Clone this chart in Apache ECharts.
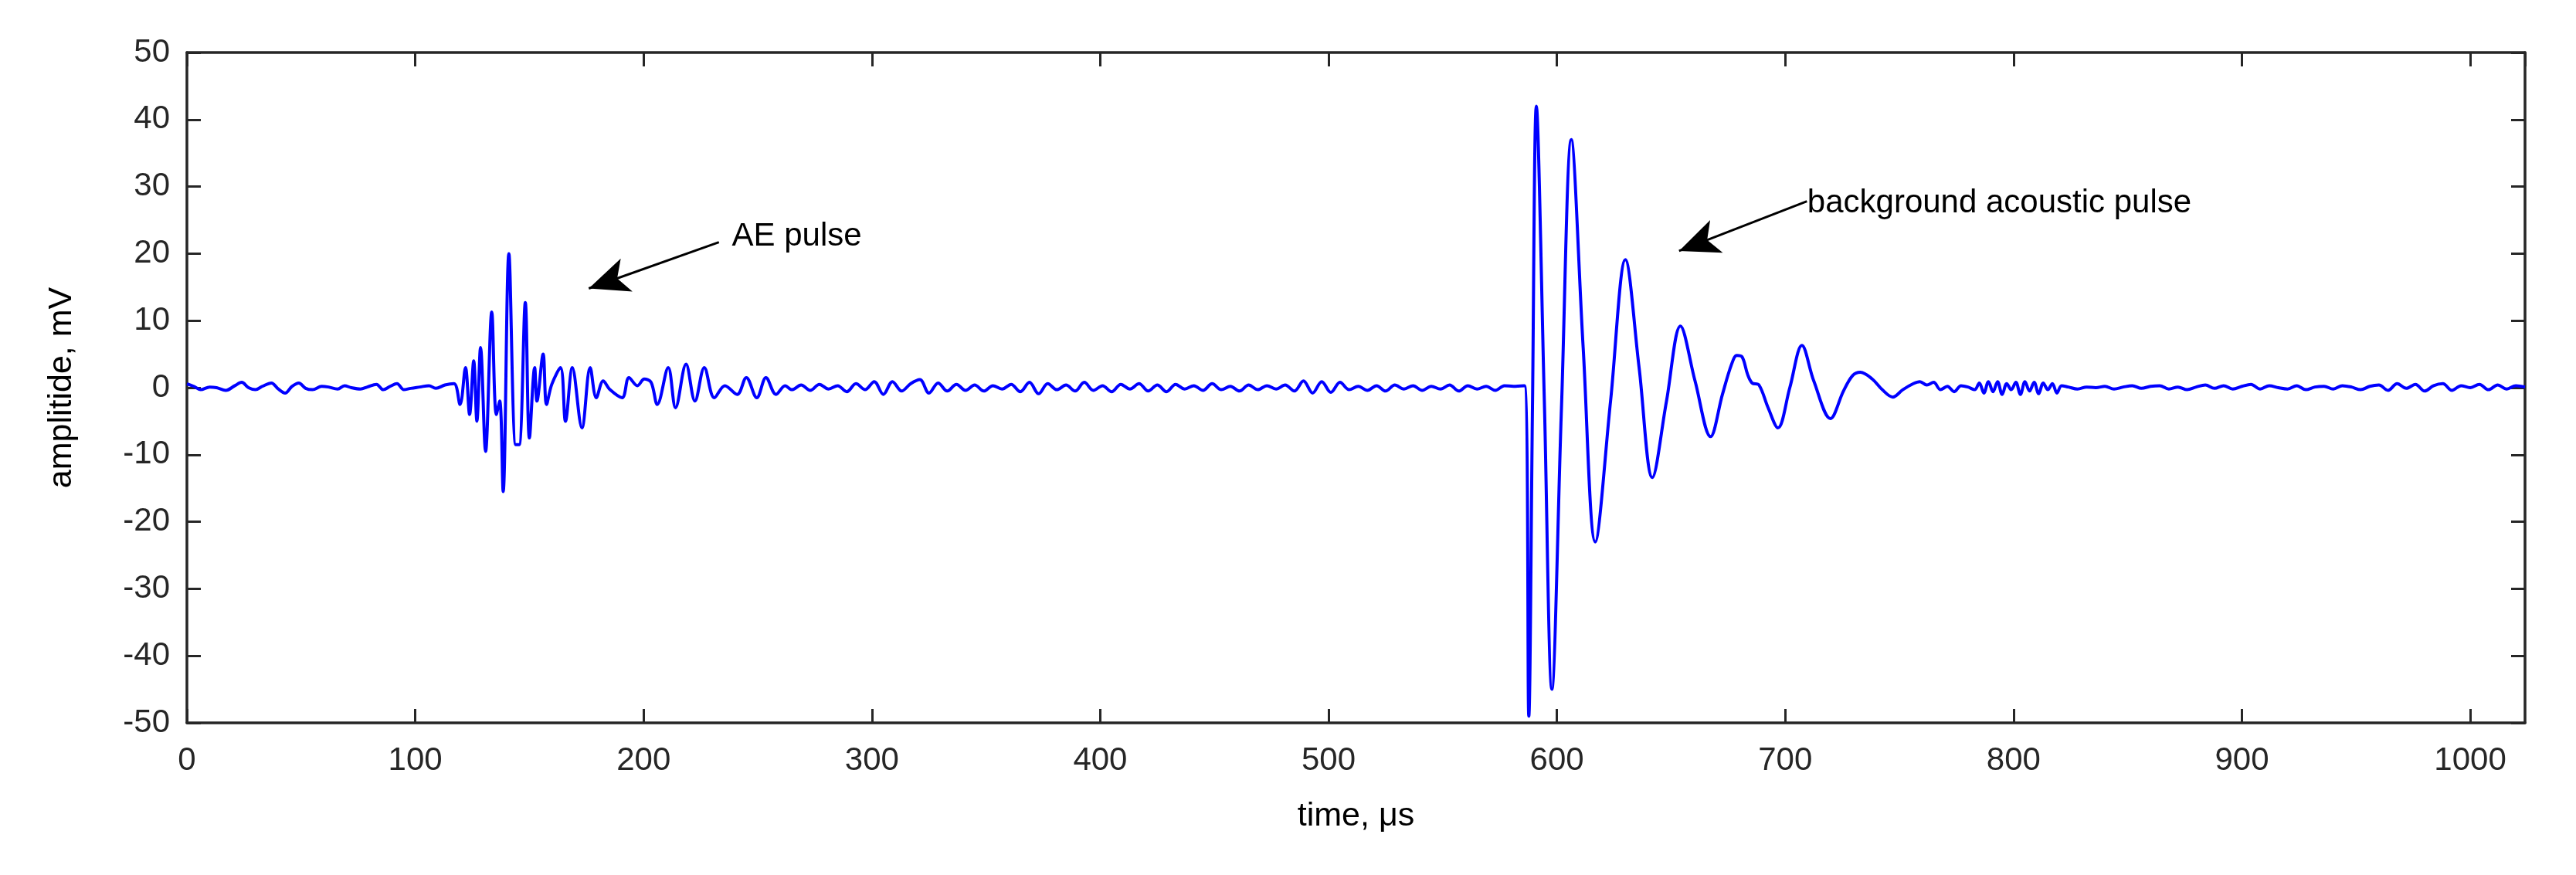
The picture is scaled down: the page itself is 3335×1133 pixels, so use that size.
<!DOCTYPE html>
<html>
<head>
<meta charset="utf-8">
<script src="https://cdn.jsdelivr.net/npm/echarts@6/dist/echarts.min.js"></script>
<style>html,body{margin:0;padding:0;background:#fff}#chart{width:3335px;height:1133px}</style>
</head>
<body>
<div id="chart"></div>
<script>
// time (us), amplitude (mV)
var noiseStart = [[0,0.6],[3,0.2],[6,-0.3],[10,0.1],[13,0],[17,-0.4],[21,0.3],[24,0.8],[27,0],[30,-0.3],[33,0.2],[37,0.7],[40,-0.2],[43,-0.8],[46,0.2],[49,0.7],[52,-0.1],[55,-0.3],[59,0.2],[62,0.1],[66,-0.2],[69,0.3],[72,0],[76,-0.2],[79,0.1],[83,0.5],[86,-0.3],[89,0.2],[92,0.6],[95,-0.3],[98,-0.1],[102,0.1],[106,0.3],[109,-0.1],[113,0.4],[117,0.6]];
var aePulse = [[119.6,-2.5],[122,3],[123.8,-4],[125.6,4],[127,-5],[128.6,6],[130.8,-9.5],[133.5,11.3],[135.5,-4],[137,-2],[138.5,-15.5],[141,20],[144,-8.5],[145.5,-8.5],[148.2,12.7],[150,-7.5],[152.3,3],[153.3,-2],[156,5],[157.5,-2.5],[159.8,0.5],[163.6,3],[165.8,-5],[168.8,3],[173,-6],[176.6,3],[179.3,-1.5],[182.3,1],[185.3,-0.3],[190.6,-1.5],[193.6,1.5],[197.3,0.3],[200.3,1.3],[203.3,0.8],[206,-2.5],[210.8,3],[214,-3],[218.6,3.5],[222.5,-2],[226.6,3],[231,-1.5],[235.6,0.3],[241,-1],[245,1.5],[249.6,-1.5],[253.6,1.5],[258,-1],[262,0.3]];
var noiseMid = [[265,-0.3],[269,0.4],[273,-0.4],[277,0.5],[281,-0.2],[285,0.3],[289,-0.6],[293,0.6],[297,-0.3],[301,0.9],[305,-1],[309,0.9],[313,-0.5],[317,0.6],[321,1.2],[325,-0.8],[329,0.7],[333,-0.5],[337,0.5],[341,-0.4],[345,0.4],[349,-0.5],[353,0.3],[357,-0.2],[361,0.5],[365,-0.6],[369,0.8],[373,-0.9],[377,0.6],[381,-0.3],[385,0.4],[389,-0.5],[393,0.8],[397,-0.4],[401,0.3],[405,-0.6],[409,0.5],[413,-0.2],[417,0.6],[421,-0.5],[425,0.4],[429,-0.6],[433,0.5],[437,-0.2],[441,0.3],[445,-0.4],[449,0.6],[453,-0.3],[457,0.2],[461,-0.5],[465,0.4],[469,-0.3],[473,0.3],[477,-0.2],[481,0.4],[485,-0.5],[489,1],[493,-0.8],[497,0.9],[501,-0.7],[505,0.8],[509,-0.3],[513,0.2],[517,-0.4],[521,0.3],[525,-0.5],[529,0.4],[533,-0.2],[537,0.3],[541,-0.4],[545,0.2],[549,-0.2],[553,0.4],[557,-0.5],[561,0.3],[565,-0.2],[569,0.2],[573,-0.4],[577,0.3],[581,0.2],[585.8,0.3]];
var bgPulse = [[587.7,-49],[589.3,-3],[591,42],[594.5,-2],[597.8,-45],[602,-3],[606.3,37],[611.5,6],[616.8,-23],[623.5,-2],[630,19.1],[636,3],[641.8,-13.4],[648,-2],[654.1,9.2],[660.5,1],[667.3,-7.3],[672.5,-1],[676.5,3.5],[678.8,4.8],[681.1,4.6],[683.5,2],[685.5,0.7],[688.5,0.4],[692.5,-3],[696.8,-6],[702,0],[707.3,6.3],[712.5,1],[719.8,-4.6],[725.5,-0.5],[729.5,1.8],[732.9,2.3],[738.1,1.3],[742.5,-0.3],[747.1,-1.4],[751.5,-0.3],[756.1,0.6]];
var noiseEnd = [[759,0.9],[762,0.4],[765,0.8],[768,-0.3],[771,0.2],[774,-0.6],[777,0.3],[780,0.1],[783,-0.3],[785,0.7],[787,-0.8],[789,0.9],[791,-0.6],[793,0.9],[795,-1],[797,0.6],[799,-0.3],[801,0.8],[803,-1],[805,0.9],[807,-0.5],[809,0.8],[811,-0.9],[813,0.7],[815,-0.3],[817,0.6],[819,-0.8],[821,0.3],[824,0.1],[828,-0.2],[832,0.1],[836,0],[840,0.2],[844,-0.2],[848,0.1],[852,0.3],[856,-0.1],[860,0.2],[864,0.3],[868,-0.2],[872,0.1],[876,-0.3],[880,0.1],[884,0.4],[888,-0.1],[892,0.3],[896,-0.2],[900,0.2],[904,0.5],[908,-0.2],[912,0.3],[916,0],[920,-0.2],[924,0.3],[928,-0.3],[932,0.1],[936,0.2],[940,-0.2],[944,0.3],[948,0.1],[952,-0.3],[956,0.2],[960,0.4],[964,-0.4],[968,0.6],[972,-0.1],[976,0.5],[980,-0.5],[984,0.3],[988,0.6],[992,-0.4],[996,0.3],[1000,0],[1004,0.5],[1008,-0.3],[1012,0.4],[1016,-0.2],[1020,0.3],[1024,0.1]];
var xTicks = [0, 1024, 100];
var yTicks = [-50, 50, 10];
var aeLabel = {text: 'AE pulse', at: [238, 22.5], from: [233, 21.7], tip: [176, 14.8]};
var bgLabel = {text: 'background acoustic pulse', at: [709, 27.5], from: [709.5, 27.8], tip: [653.5, 20.4]};

var wave = [].concat(noiseStart, aePulse, noiseMid, bgPulse, noiseEnd);

var FONT = '"Liberation Sans", Arial, sans-serif';
var myChart = echarts.init(document.getElementById('chart'));

function axisBox(showLabel, name, nameGap) {
    return {
        axisLine: {onZero: false, lineStyle: {color: '#262626', width: 3.5}},
        axisTick: {inside: true, length: 18, lineStyle: {color: '#262626', width: 3}},
        axisLabel: {show: showLabel, color: '#262626', fontSize: 42, fontFamily: FONT,
            formatter: function (v) { return String(v); }},
        splitLine: {show: false},
        name: name, nameLocation: 'middle', nameGap: nameGap,
        nameTextStyle: {color: '#000', fontSize: 43, fontFamily: FONT}
    };
}

var xb = axisBox(true, 'time, μs', 100);
var xt = axisBox(false, '', 0);
var yl = axisBox(true, 'amplitide, mV', 140);
var yr = axisBox(false, '', 0);

option = {
    animation: false,
    backgroundColor: '#fff',
    grid: {left: 242, right: 66, top: 68, bottom: 197},
    xAxis: [
        Object.assign(xb, {type: 'value', min: xTicks[0], max: xTicks[1], interval: xTicks[2], position: 'bottom',
            axisLabel: Object.assign(xb.axisLabel, {margin: 28, showMaxLabel: false})}),
        Object.assign(xt, {type: 'value', min: xTicks[0], max: xTicks[1], interval: xTicks[2], position: 'top'})
    ],
    yAxis: [
        Object.assign(yl, {type: 'value', min: yTicks[0], max: yTicks[1], interval: yTicks[2], position: 'left',
            axisLabel: Object.assign(yl.axisLabel, {margin: 22})}),
        Object.assign(yr, {type: 'value', min: yTicks[0], max: yTicks[1], interval: yTicks[2], position: 'right'})
    ],
    series: [
        {
            type: 'line',
            data: wave,
            showSymbol: false,
            smooth: 0.35,
            lineStyle: {color: '#0000ff', width: 4},
            markLine: {
                silent: true,
                symbol: ['none', 'arrow'],
                symbolSize: [34, 52],
                label: {show: false},
                lineStyle: {color: '#000', width: 3, type: 'solid'},
                data: [
                    [{coord: aeLabel.from}, {coord: aeLabel.tip}],
                    [{coord: bgLabel.from}, {coord: bgLabel.tip}]
                ]
            },
            markPoint: {
                silent: true,
                symbol: 'circle',
                symbolSize: 0,
                label: {show: true, position: 'right', distance: 2, color: '#000', fontSize: 42, fontFamily: FONT, formatter: '{b}'},
                data: [
                    {name: aeLabel.text, coord: aeLabel.at},
                    {name: bgLabel.text, coord: bgLabel.at}
                ]
            }
        }
    ]
};
myChart.setOption(option, true);
</script>
</body>
</html>
